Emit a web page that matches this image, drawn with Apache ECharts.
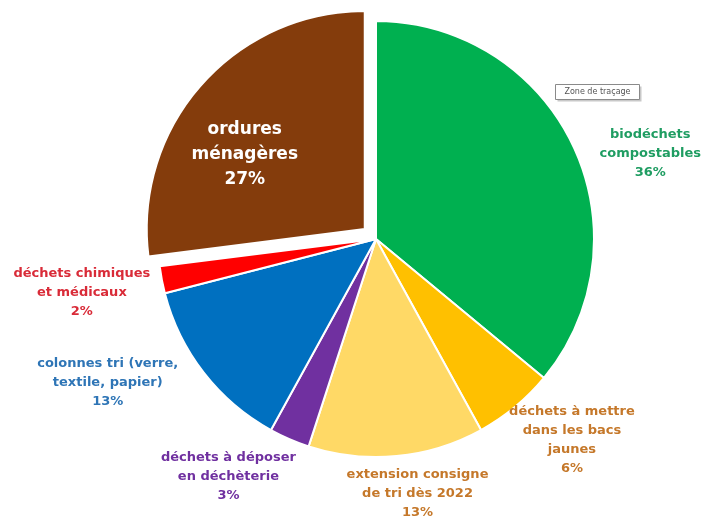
<!DOCTYPE html>
<html>
<head>
<meta charset="utf-8">
<script src="https://cdn.jsdelivr.net/npm/echarts@6/dist/echarts.min.js"></script>
<style>
html,body{margin:0;padding:0;background:#fff;}
#chart{width:705px;height:517px;}
</style>
</head>
<body>
<div id="chart"></div>
<script>
const categories = [
  'biodéchets\ncompostables',
  'déchets à mettre\ndans les bacs\njaunes',
  'extension consigne\nde tri dès 2022',
  'déchets à déposer\nen déchèterie',
  'colonnes tri (verre,\ntextile, papier)',
  'déchets chimiques\net médicaux',
  'ordures\nménagères'
];
const values = [36, 6, 13, 3, 13, 2, 27];
const sliceColors = ['#00b050', '#ffc000', '#ffd966', '#7030a0', '#0070c0', '#ff0000', '#843c0c'];
const labelColors = ['#1f9d62', '#c5782a', '#c5782a', '#7030a0', '#2e75b6', '#d92b38', '#ffffff'];
const exploded = [false, false, false, false, false, false, true];
// label offsets relative to the library-computed label anchor
const labelShift = [
  [72, 7], [52, 33], [16, 38], [-56, 38], [-91, 10], [-75, 13], [-36, 0]
];

const chart = echarts.init(document.getElementById('chart'));
const data = categories.map((name, i) => ({
  name: name,
  value: values[i],
  selected: exploded[i],
  itemStyle: { color: sliceColors[i] },
  label: i === 6
    ? { position: 'inside', color: labelColors[i], fontSize: 17, lineHeight: 25 }
    : { color: labelColors[i] }
}));

chart.setOption({
  animation: false,
  series: [{
    type: 'pie',
    center: [376, 239],
    radius: 218,
    startAngle: 90,
    clockwise: true,
    selectedMode: 'multiple',
    selectedOffset: 15,
    avoidLabelOverlap: false,
    itemStyle: { borderColor: '#ffffff', borderWidth: 2 },
    select: { itemStyle: { borderColor: '#ffffff', borderWidth: 2 } },
    emphasis: { disabled: true },
    label: {
      show: true,
      position: 'outside',
      formatter: '{b}\n{c}%',
      fontFamily: 'DejaVu Sans',
      fontWeight: 'bold',
      fontSize: 13,
      lineHeight: 19
    },
    labelLine: { show: false, length: 0, length2: 0 },
    labelLayout: function (p) {
      const s = labelShift[p.dataIndex];
      return { align: 'center', dx: s[0], dy: s[1] };
    },
    data: data
  }],
  graphic: [{
    type: 'group',
    left: 555,
    top: 84,
    children: [
      { type: 'rect', shape: { x: 2, y: 2, width: 84, height: 15 }, style: { fill: '#c8c8c8' } },
      { type: 'rect', shape: { x: 0, y: 0, width: 84, height: 15 }, style: { fill: '#ffffff', stroke: '#8a8a8a', lineWidth: 1 } },
      { type: 'text', x: 42, y: 7.5, style: { text: 'Zone de traçage', fontSize: 8, fontFamily: 'DejaVu Sans', fill: '#555', align: 'center', verticalAlign: 'middle' } }
    ]
  }]
});
</script>
</body>
</html>
